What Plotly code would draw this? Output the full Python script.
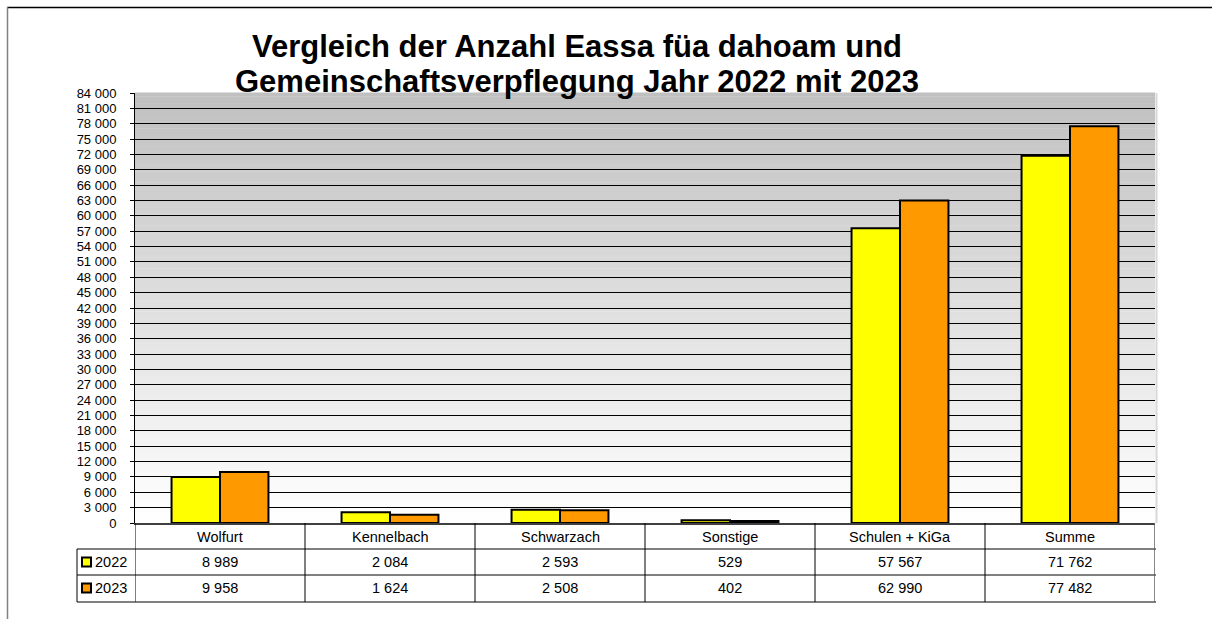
import plotly.graph_objects as go

categories = ["Wolfurt", "Kennelbach", "Schwarzach", "Sonstige", "Schulen + KiGa", "Summe"]
years = ["2022", "2023"]
v2022 = [8989, 2084, 2593, 529, 57567, 71762]
v2023 = [9958, 1624, 2508, 402, 62990, 77482]
colors = ["#FFFF00", "#FF9900"]
title_lines = ["Vergleich der Anzahl Eassa füa dahoam und",
               "Gemeinschaftsverpflegung Jahr 2022 mit 2023"]

W, H = 1212, 619
L, R, T, B = 135, 1155, 93, 523
FONT = "Liberation Sans, Arial, sans-serif"


def px(x):
    return (x - L) / (R - L)


def py(y):
    return (B - y) / (B - T)


def fmt(v):
    return f"{v:,}".replace(",", " ")


fig = go.Figure()
for name, vals, col in zip(years, [v2022, v2023], colors):
    fig.add_trace(go.Bar(x=categories, y=vals, name=name,
                         marker=dict(color=col, line=dict(color="black", width=2)),
                         showlegend=False, hoverinfo="skip"))

shapes = []
# gradient background bands
N = 120
for i in range(N):
    f0, f1 = i / N, (i + 1) / N
    mid = (f0 + f1) / 2
    c = int(round(255 - (255 - 192) * mid))
    shapes.append(dict(type="rect", xref="paper", yref="paper", x0=0, x1=1,
                       y0=f0, y1=f1 + 0.001, fillcolor=f"rgb({c},{c},{c})",
                       line=dict(width=0), layer="below"))
# plot area right edge
shapes.append(dict(type="line", xref="paper", yref="paper", x0=px(1156.5), x1=px(1156.5),
                   y0=0, y1=1, line=dict(color="#d8d8d8", width=2)))

# data table lines
row_y = [549, 575, 602]
for yy in row_y:
    shapes.append(dict(type="line", xref="paper", yref="paper", x0=px(77), x1=px(1156),
                       y0=py(yy), y1=py(yy), line=dict(color="black", width=1)))
for i in range(len(categories) + 1):
    last = i == len(categories)
    shapes.append(dict(type="line", xref="x", yref="paper", x0=i - 0.5, x1=i - 0.5,
                       y0=py(523), y1=py(602),
                       line=dict(color="#606060" if last else "black",
                                 width=1.5 if last else 1)))
shapes.append(dict(type="line", xref="paper", yref="paper", x0=px(77), x1=px(77),
                   y0=py(549), y1=py(602), line=dict(color="black", width=1)))

# legend keys
for k, col in enumerate(colors):
    yc = 562 + 26 * k
    shapes.append(dict(type="rect", xref="paper", yref="paper", x0=px(82), x1=px(91),
                       y0=py(yc + 4.5), y1=py(yc - 4.5), fillcolor=col,
                       line=dict(color="black", width=2)))

# outer border
shapes.append(dict(type="line", xref="paper", yref="paper", x0=px(7), x1=px(1212),
                   y0=py(7.5), y1=py(7.5), line=dict(color="black", width=1.5)))
shapes.append(dict(type="line", xref="paper", yref="paper", x0=px(7.5), x1=px(7.5),
                   y0=py(7), y1=py(619), line=dict(color="#808080", width=1.5)))

annotations = []
for i, cat in enumerate(categories):
    annotations.append(dict(x=cat, xref="x", y=py(536.5), yref="paper", text=cat,
                            showarrow=False, xanchor="center", yanchor="middle",
                            font=dict(size=14.5, color="black", family=FONT)))
    for k, vals in enumerate([v2022, v2023]):
        annotations.append(dict(x=cat, xref="x", y=py(562 + 26 * k), yref="paper",
                                text=fmt(vals[i]), showarrow=False,
                                xanchor="center", yanchor="middle",
                                font=dict(size=14.5, color="black", family=FONT)))
for k, yr in enumerate(years):
    annotations.append(dict(x=px(93), xref="paper", y=py(562 + 26 * k), yref="paper",
                            text=yr, showarrow=False, xanchor="left", yanchor="middle",
                            font=dict(size=14.5, color="black", family=FONT)))

for k, line in enumerate(title_lines):
    annotations.append(dict(x=px(577), xref="paper", y=py(47 + 34 * k), yref="paper",
                            text=f"<b>{line}</b>", showarrow=False,
                            xanchor="center", yanchor="middle",
                            font=dict(size=31, color="black", family=FONT)))

fig.update_layout(
    width=W, height=H,
    margin=dict(l=L, r=W - R, t=T, b=H - B),
    paper_bgcolor="white", plot_bgcolor="rgba(0,0,0,0)",
    barmode="group", bargap=0.43, bargroupgap=0,
    separators=", ",
    shapes=shapes, annotations=annotations,
    font=dict(family=FONT, color="black"),
    xaxis=dict(showticklabels=False, showgrid=False, ticks="",
               range=[-0.5, len(categories) - 0.5],
               showline=True, linecolor="#404040", linewidth=2, zeroline=False),
    yaxis=dict(range=[0, 84000], dtick=3000, tickformat=",d",
               showgrid=True, gridcolor="black", gridwidth=1,
               showline=True, linecolor="black", linewidth=1,
               ticks="outside", ticklen=4, tickcolor="black",
               ticklabelstandoff=11,
               zeroline=False, tickfont=dict(size=13, color="black", family=FONT)),
)

fig.write_html("out.html", config={"displayModeBar": False},
               post_script="document.body.style.margin='0px';document.body.style.overflow='hidden';")
